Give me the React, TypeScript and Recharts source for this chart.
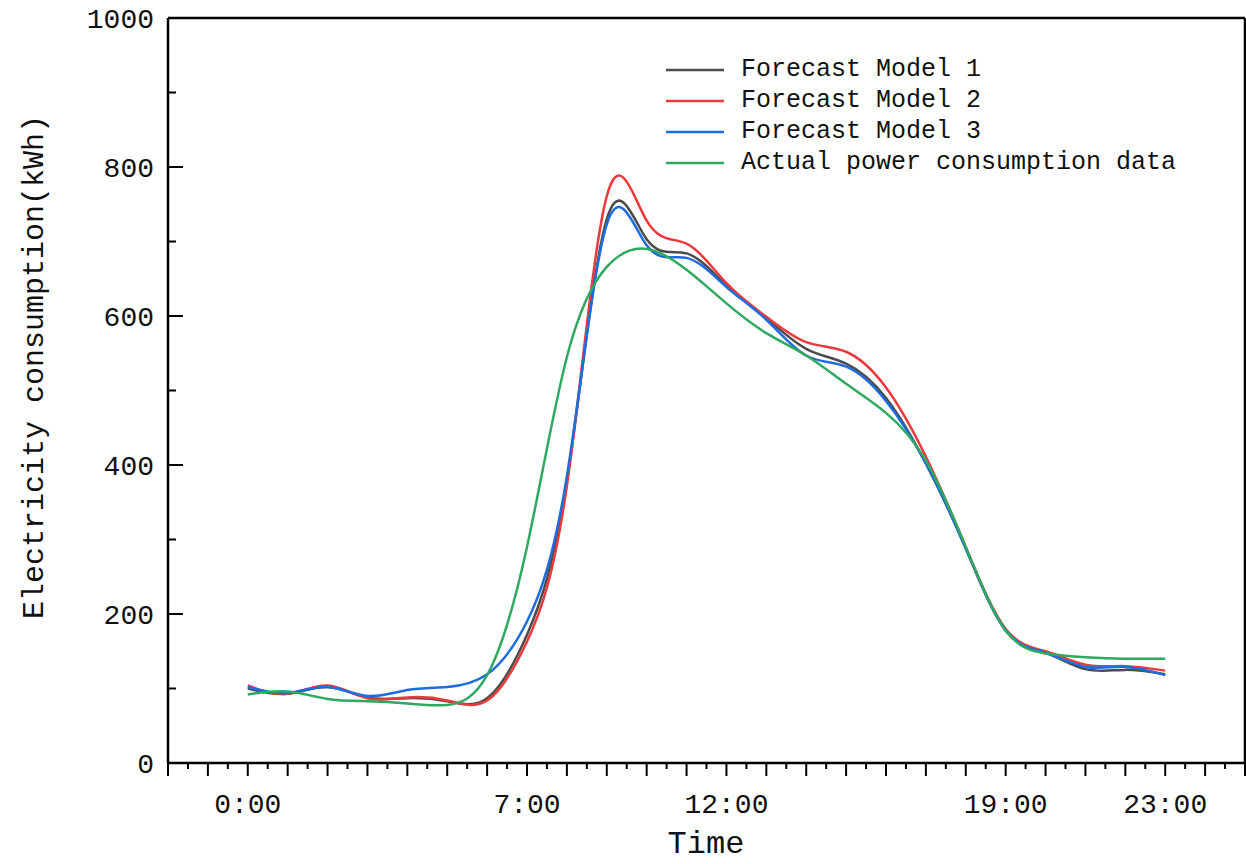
import { LineChart, Line, XAxis, YAxis, ReferenceLine } from 'recharts';

const hours = [0, 1, 2, 3, 4, 5, 6, 7, 8, 9, 10, 11, 12, 13, 14, 15, 16, 17, 18, 19, 20, 21, 22, 23];
const model1 = [100, 93, 102, 88, 87, 83, 87, 172, 378, 730, 703, 684, 641, 597, 556, 536, 490, 402, 288, 178, 148, 126, 125, 119];
const model2 = [104, 93, 104, 87, 88, 84, 84, 163, 372, 761, 728, 697, 644, 599, 565, 552, 504, 411, 290, 180, 150, 132, 130, 124];
const model3 = [102, 94, 102, 90, 98, 102, 119, 190, 385, 723, 695, 678, 639, 595, 547, 532, 486, 402, 288, 178, 148, 129, 129, 118];
const actual = [92, 96, 86, 83, 80, 78, 118, 290, 545, 666, 690, 662, 617, 577, 547, 509, 470, 406, 290, 178, 147, 142, 140, 140];

const labelledHours = [0, 7, 12, 19, 23];
const yTicks = [0, 100, 200, 300, 400, 500, 600, 700, 800, 900, 1000];

const series = [
  { key: 'm1', name: 'Forecast Model 1', color: '#4b4b4b' },
  { key: 'm2', name: 'Forecast Model 2', color: '#ec3a3c' },
  { key: 'm3', name: 'Forecast Model 3', color: '#1d6ddf' },
  { key: 'act', name: 'Actual power consumption data', color: '#2fa862' },
];

const data = hours.map((h, i) => ({
  hour: h,
  m1: model1[i],
  m2: model2[i],
  m3: model3[i],
  act: actual[i],
}));

// half hour marks from -2 to 25
const xTicks = Array.from({ length: 55 }, (_, i) => -2 + i * 0.5);

const mono = '"Liberation Mono", monospace';

const XTick = (props: any) => {
  const { x, y, payload } = props;
  const v = payload.value;
  const major = Number.isInteger(v);
  const label = labelledHours.includes(v) ? `${v}:00` : null;
  return (
    <g>
      <line x1={x} x2={x} y1={y} y2={y + (major ? 13 : 6)} stroke="#000" strokeWidth={2} />
      {label && (
        <text x={x} y={y + 50} textAnchor="middle" fontFamily={mono} fontSize={28} fill="#111">
          {label}
        </text>
      )}
    </g>
  );
};

const YTick = (props: any) => {
  const { x, y, payload } = props;
  const v = payload.value;
  const major = v % 200 === 0;
  return (
    <g>
      <line x1={x} x2={x + (major ? 15 : 8)} y1={y} y2={y} stroke="#000" strokeWidth={2} />
      {major && (
        <text x={x - 14} y={y} dy="0.35em" textAnchor="end" fontFamily={mono} fontSize={28} fill="#111">
          {v}
        </text>
      )}
    </g>
  );
};

export default function App() {
  return (
    <div style={{ position: 'absolute', left: 0, top: 0, width: 1246, height: 864, background: '#fff' }}>
      <LineChart width={1246} height={864} data={data} margin={{ top: 18, right: 1, left: 0, bottom: 0 }}>
        <XAxis
          type="number"
          dataKey="hour"
          domain={[-2, 25]}
          ticks={xTicks}
          interval={0}
          tick={<XTick />}
          tickLine={false}
          tickSize={0}
          tickMargin={0}
          height={101}
          axisLine={{ stroke: '#000', strokeWidth: 2.5 }}
          allowDataOverflow
          label={{
            content: () => (
              <text x={706} y={853} textAnchor="middle" fontFamily={mono} fontSize={32} fill="#111">
                Time
              </text>
            ),
          }}
        />
        <YAxis
          type="number"
          domain={[0, 1000]}
          ticks={yTicks}
          interval={0}
          tick={<YTick />}
          tickLine={false}
          tickSize={0}
          tickMargin={0}
          width={168}
          axisLine={{ stroke: '#000', strokeWidth: 2.5 }}
          allowDataOverflow
          label={{
            content: () => (
              <text
                x={35}
                y={367}
                transform="rotate(-90 35 367)"
                textAnchor="middle"
                dominantBaseline="central"
                fontFamily={mono}
                fontSize={30}
                fill="#111"
              >
                Electricity consumption(kWh)
              </text>
            ),
          }}
        />
        <ReferenceLine y={1000} stroke="#000" strokeWidth={2.5} />
        <ReferenceLine x={25} stroke="#000" strokeWidth={2.5} />
        {series.map((s) => (
          <Line
            key={s.key}
            type="natural"
            dataKey={s.key}
            name={s.name}
            stroke={s.color}
            strokeWidth={2.5}
            dot={false}
            activeDot={false}
            isAnimationActive={false}
          />
        ))}
      </LineChart>
      <div style={{ position: 'absolute', left: 666, top: 54, fontFamily: mono, fontSize: 25, color: '#111' }}>
        {series.map((s) => (
          <div key={s.key} style={{ display: 'flex', alignItems: 'center', height: 31 }}>
            <svg width={58} height={4} style={{ display: 'block' }}>
              <line x1={0} x2={58} y1={2} y2={2} stroke={s.color} strokeWidth={2.5} />
            </svg>
            <span style={{ marginLeft: 17, whiteSpace: 'pre' }}>{s.name}</span>
          </div>
        ))}
      </div>
    </div>
  );
}
